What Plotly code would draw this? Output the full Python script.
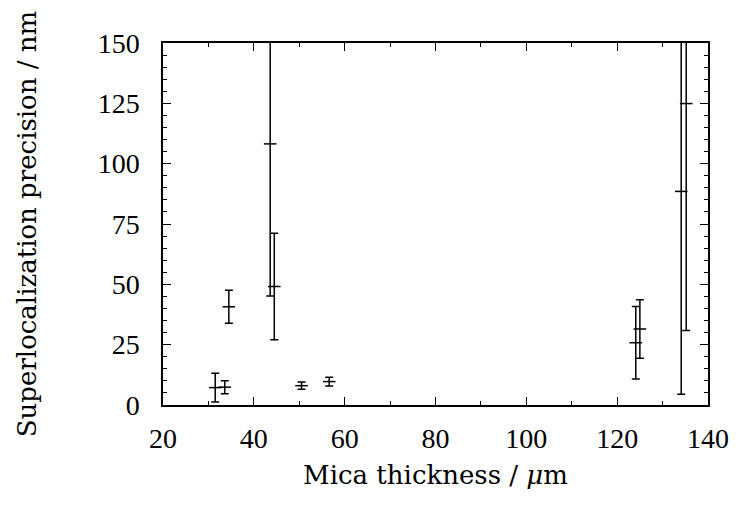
import plotly.graph_objects as go

# Mica thickness (µm) and superlocalization precision (nm) with uncertainties
thickness = [31.5, 33.6, 34.5, 43.6, 44.5, 50.5, 56.6, 124.1, 125.0, 134.1, 135.2]
precision = [7.2, 7.4, 40.7, 108.2, 49.1, 8.0, 9.7, 25.8, 31.5, 88.5, 124.9]
precision_err = [6.0, 2.7, 6.8, 63.0, 22.1, 1.5, 1.8, 15.0, 12.1, 84.0, 94.0]

x_ticks = [20, 40, 60, 80, 100, 120, 140]
y_ticks = [0, 25, 50, 75, 100, 125, 150]

tick_font = dict(family="Liberation Serif, serif", size=28, color="black")
title_font = dict(family="DejaVu Serif, serif", size=26, color="black")

fig = go.Figure(
    go.Scatter(
        x=thickness,
        y=precision,
        mode="markers",
        marker=dict(symbol="line-ew", size=9, color="black",
                    line=dict(color="black", width=1.5)),
        error_y=dict(type="data", array=precision_err, visible=True,
                     color="black", thickness=1.5, width=4),
        showlegend=False,
    )
)

axis_common = dict(
    showgrid=False,
    zeroline=False,
    showline=True,
    linecolor="black",
    linewidth=1.5,
    mirror="allticks",
    ticks="inside",
    ticklen=8,
    tickwidth=1.2,
    tickcolor="black",
    tickfont=tick_font,
)

fig.update_xaxes(
    range=[20, 140],
    tickvals=x_ticks,
    ticktext=[str(v) for v in x_ticks],
    ticklabelstandoff=8,
    minor=dict(dtick=10, tick0=0, ticks="inside", ticklen=4,
               tickwidth=1.2, tickcolor="black"),
    title=dict(text="Mica thickness / <i>μ</i>m", font=title_font, standoff=12),
    **axis_common,
)
fig.update_yaxes(
    range=[0, 150],
    tickvals=y_ticks,
    ticktext=[str(v) for v in y_ticks],
    ticklabelstandoff=16,
    minor=dict(dtick=5, tick0=0, ticks="inside", ticklen=4,
               tickwidth=1.2, tickcolor="black"),
    title=dict(text="Superlocalization precision / nm", font=title_font, standoff=54),
    **axis_common,
)

fig.update_layout(
    width=741,
    height=506,
    margin=dict(l=163, r=29, t=43, b=101),
    plot_bgcolor="white",
    paper_bgcolor="white",
)

fig.write_html("out.html")
